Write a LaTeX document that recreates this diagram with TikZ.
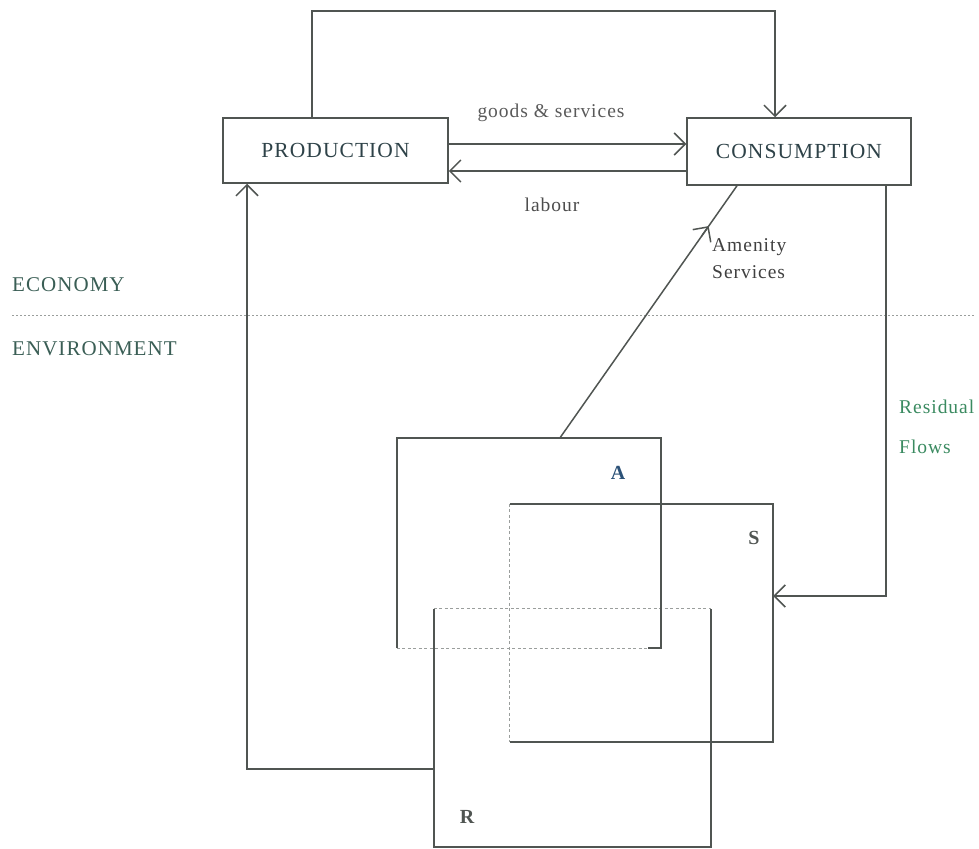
\documentclass[tikz,border=0pt]{standalone}
\usepackage{fontspec}
\setmainfont{Liberation Serif}[LetterSpace=5]
\usepackage{xcolor}
\usepackage{tikz}
\usetikzlibrary{arrows.meta,calc}

\definecolor{linegray}{HTML}{505552}
\definecolor{dotgray}{HTML}{9A9E9C}
\definecolor{capink}{HTML}{2E4248}
\definecolor{econink}{HTML}{3A5E55}
\definecolor{flowgreen}{HTML}{3A8A60}
\definecolor{ablue}{HTML}{2C5278}

\begin{document}
\begin{tikzpicture}[x=1pt,y=-1pt,
	sector/.style={draw=linegray,line width=1.5pt,inner sep=0pt,text=capink,font=\fontsize{21.5}{24}\selectfont},
	region/.style={inner sep=0pt},
	wire/.style={draw=linegray,line width=1.5pt},
	flow/.style={wire,-{Straight Barb[length=11pt,width=22pt]}},
	faint/.style={draw=dotgray,line width=1.2pt,dash pattern=on 3pt off 2.5pt},
	lbl/.style={inner sep=0pt,font=\fontsize{19.5}{22}\selectfont},
	side/.style={lbl,anchor=west,font=\fontsize{21}{24}\selectfont,text=econink},
	letter/.style={inner sep=0pt,font=\fontsize{20}{23}\selectfont\bfseries}]
	\useasboundingbox (0,0) rectangle (979,848);

	\node[sector,minimum width=225pt,minimum height=65pt] (prod) at (335.5,150.5) {PRODUCTION};
	\node[sector,minimum width=224pt,minimum height=67pt] (cons) at (799,151.5) {CONSUMPTION};

	\node[region,minimum width=264pt,minimum height=210pt] (boxA) at (529,543) {};
	\node[region,minimum width=263pt,minimum height=238pt] (boxS) at (641.5,623) {};
	\node[region,minimum width=277pt,minimum height=238pt] (boxR) at (572.5,728) {};

	% the three environment boxes
	\draw[faint] (boxS.north west) -- (boxS.south west);
	\draw[faint] (boxR.north west) -- (boxR.north east);
	\draw[faint] (boxA.south west) -- ([xshift=-13pt]boxA.south east);
	\draw[wire] ([xshift=-13pt]boxA.south east) -- (boxA.south east) -- (boxA.north east) -- (boxA.north west) -- (boxA.south west);
	\draw[wire] (boxS.north west) -- (boxS.north east) -- (boxS.south east) -- (boxS.south west);
	\draw[wire] (boxR.north west) -- (boxR.south west) -- (boxR.south east) -- (boxR.north east);
	\node[letter,text=ablue] (labA) at (618,473) {A};
	\node[letter,text=linegray] (labS) at (754,538) {S};
	\node[letter,text=linegray] (labR) at (467,817) {R};

	% economy / environment divide
	\coordinate (divL) at (12,315);
	\coordinate (divR) at (975,315);
	\draw[faint,line width=1pt,dash pattern=on 2pt off 2pt] (divL) -- (divR);
	\node[side] (econ) at (12,285) {ECONOMY};
	\node[side] (envir) at (12,349) {ENVIRONMENT};

	% flows
	\draw[flow] ([xshift=-23.5pt]prod.north) -- ++(0,-106) -| ([xshift=-24pt]cons.north);
	\coordinate (goodsP) at ([yshift=6.5pt]prod.east);
	\coordinate (labourP) at ([yshift=-20.5pt]prod.east);
	\draw[flow] (goodsP) -- (goodsP -| cons.west);
	\draw[flow] (labourP -| cons.west) -- (labourP);
	\node[lbl,text=black!65] (goodslbl) at (551,113) {goods \& services};
	\node[lbl,text=black!70] (labourlbl) at (552,205) {labour};

	\coordinate (amenA) at ([xshift=31pt]boxA.north);
	\coordinate (amenC) at ([xshift=-62pt]cons.south);
	\draw[flow] (amenA) -- ($(amenA)!0.84!(amenC)$);
	\draw[wire] ($(amenA)!0.8!(amenC)$) -- (amenC);
	\node[lbl,anchor=west,text=black!75] (amenlbl) at (712,247) {Amenity};
	\node[lbl,anchor=west,text=black!75] (servlbl) at (712,272) {Services};

	\draw[flow] ([xshift=87pt]cons.south) |- ([yshift=27pt]boxS.east);
	\node[lbl,anchor=west,text=flowgreen] (residlbl) at (899,407) {Residual};
	\node[lbl,anchor=west,text=flowgreen] (flowslbl) at (899,447) {Flows};

	\draw[flow] ([yshift=-41pt]boxR.west) -| ([xshift=-88.5pt]prod.south);
\end{tikzpicture}
\end{document}
